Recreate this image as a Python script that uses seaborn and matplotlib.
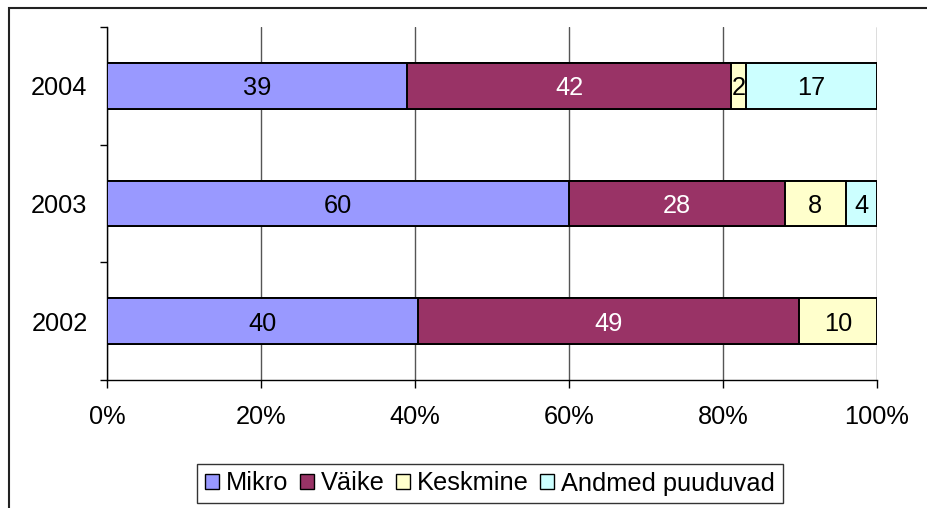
import matplotlib
matplotlib.use("Agg")
import matplotlib.pyplot as plt
import matplotlib.patches as mpatches
import seaborn as sns
import pandas as pd
import numpy as np

years = ["2004", "2003", "2002"]
series = ["Mikro", "Väike", "Keskmine", "Andmed puuduvad"]
mikro = [39, 60, 40]
vaike = [42, 28, 49]
keskmine = [2, 8, 10]
andmed = [17, 4, 0]
colors = ["#9999FF", "#993366", "#FFFFCC", "#CCFFFF"]
text_colors = ["black", "white", "black", "black"]

sns.set_theme(style="white")
plt.rcParams['font.family'] = ['Liberation Sans', 'DejaVu Sans']
plt.rcParams['text.color'] = 'black'
plt.rcParams['xtick.color'] = 'black'
plt.rcParams['ytick.color'] = 'black'
FS = 18.3

vals = np.array([mikro, vaike, keskmine, andmed], dtype=float)
totals = vals.sum(axis=0)
pct = vals / totals * 100
cum = np.cumsum(pct, axis=0)

fig = plt.figure(figsize=(9.28, 5.08), dpi=100)
ax = fig.add_axes([107/928, 1-380/508, (877-107)/928, (380-27)/508])

# draw cumulative bars from largest to smallest so segments show
for i in range(len(series) - 1, -1, -1):
    df = pd.DataFrame({"year": years, "value": cum[i]})
    sns.barplot(data=df, y="year", x="value", order=years, orient="h",
                color=colors[i], saturation=1, width=0.39,
                edgecolor="black", linewidth=1.4, ax=ax, zorder=3)

# value labels
for i in range(len(series)):
    for j, y in enumerate(years):
        v = vals[i, j]
        if v <= 0:
            continue
        center = cum[i, j] - pct[i, j] / 2
        ax.text(center, j, f"{int(v)}", ha="center", va="center_baseline",
                fontsize=FS, color=text_colors[i], zorder=5)

ax.set_xlim(0, 100)
ax.set_ylim(2.5, -0.5)
ax.set_xticks([0, 20, 40, 60, 80, 100])
ax.set_xticklabels(["0%", "20%", "40%", "60%", "80%", "100%"], fontsize=FS)
ax.set_yticks([0, 1, 2])
ax.set_yticklabels(years, fontsize=FS)
ax.set_yticks([-0.5, 0.5, 1.5, 2.5], minor=True)
ax.tick_params(axis="y", which="major", length=0, pad=14)
ax.tick_params(axis="y", which="minor", length=5, width=1, color="black", direction="out", left=True)
ax.tick_params(axis="x", which="major", length=6, width=1, color="black", direction="out", bottom=True, pad=12)
ax.set_xlabel("")
ax.set_ylabel("")
ax.xaxis.grid(True, color="#555555", linewidth=1)
ax.yaxis.grid(False)
ax.set_axisbelow(True)
for s in ["top", "right"]:
    ax.spines[s].set_visible(False)
for s in ["left", "bottom"]:
    ax.spines[s].set_color("black")
    ax.spines[s].set_linewidth(1)
ax.set_facecolor("white")

handles = [mpatches.Patch(facecolor=c, edgecolor="black", linewidth=1) for c in colors]
leg = fig.legend(handles, series, loc="center", bbox_to_anchor=(490/928, 1-483.5/508),
                 ncol=4, fontsize=FS, frameon=True, fancybox=False,
                 handlelength=0.55, handleheight=0.55, handletextpad=0.28,
                 columnspacing=0.45, borderpad=0.3, borderaxespad=0)
leg.get_frame().set_edgecolor("black")
leg.get_frame().set_linewidth(1)
for t in leg.get_texts():
    t.set_color("black")

# outer chart border (left and top visible)
border = mpatches.Rectangle((9/928, -0.1), 1.2, 1.1 - 8/508, transform=fig.transFigure,
                            fill=False, edgecolor="#222222", linewidth=1.5, zorder=0)
fig.patches.append(border)

fig.savefig("out.png", dpi=100)
